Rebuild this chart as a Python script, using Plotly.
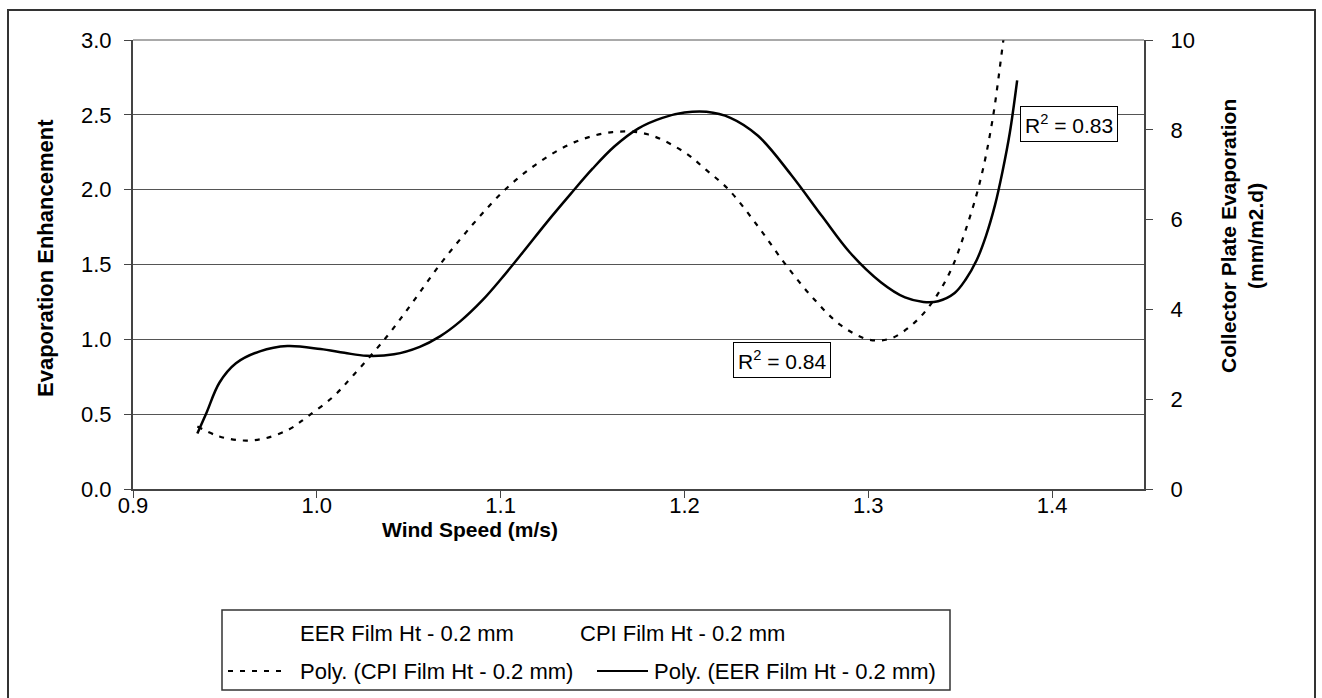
import plotly.graph_objects as go

# Polynomial trendline of EER (left axis)
eer_x = [0.935, 0.940, 0.947, 0.956, 0.969, 0.984, 1.002, 1.015, 1.027, 1.042, 1.056, 1.067,
         1.078, 1.090, 1.100, 1.112, 1.125, 1.138, 1.150, 1.162, 1.175, 1.188, 1.200, 1.212,
         1.225, 1.240, 1.258, 1.275, 1.290, 1.307, 1.320, 1.330, 1.338, 1.347, 1.353, 1.359,
         1.364, 1.369, 1.373, 1.377, 1.381]
eer_y = [0.37, 0.51, 0.71, 0.84, 0.92, 0.955, 0.935, 0.91, 0.89, 0.90, 0.95, 1.02,
         1.12, 1.26, 1.40, 1.58, 1.78, 1.97, 2.14, 2.29, 2.41, 2.48, 2.515, 2.52,
         2.48, 2.36, 2.10, 1.82, 1.58, 1.38, 1.28, 1.25, 1.255, 1.31, 1.40, 1.53,
         1.69, 1.90, 2.12, 2.38, 2.73]

# Polynomial trendline of CPI (right axis)
cpi_x = [0.935, 0.947, 0.960, 0.972, 0.985, 0.9945, 1.009, 1.020, 1.038, 1.052, 1.067, 1.085,
         1.1025, 1.120, 1.140, 1.161, 1.180, 1.200, 1.212, 1.224, 1.240, 1.255, 1.270, 1.285,
         1.300, 1.312, 1.325, 1.3355, 1.345, 1.353, 1.361, 1.3675, 1.3735, 1.378]
cpi_y = [1.39, 1.17, 1.08, 1.13, 1.33, 1.60, 2.06, 2.54, 3.39, 4.15, 5.0, 5.9,
         6.67, 7.25, 7.72, 7.95, 7.90, 7.50, 7.10, 6.67, 5.85, 5.0, 4.25, 3.65,
         3.33, 3.35, 3.70, 4.20, 4.88, 5.77, 6.88, 8.2, 10.0, 11.4]

x_ticks = [0.9, 1.0, 1.1, 1.2, 1.3, 1.4]
y_ticks = [0.0, 0.5, 1.0, 1.5, 2.0, 2.5, 3.0]
y2_ticks = [0, 2, 4, 6, 8, 10]

legend_labels = ["EER Film Ht - 0.2 mm", "CPI Film Ht - 0.2 mm",
                 "Poly. (CPI Film Ht - 0.2 mm)", "Poly. (EER Film Ht - 0.2 mm)"]
r2_labels = ["R<sup>2</sup> = 0.84", "R<sup>2</sup> = 0.83"]

FONT = "Liberation Sans, Arial, sans-serif"
W, H = 1322, 698
L, R, T, B = 133, 1144, 40, 489

fig = go.Figure()
fig.add_trace(go.Scatter(x=cpi_x, y=cpi_y, mode="lines", yaxis="y2",
                         line=dict(color="black", width=2.2, dash="5px,7px", shape="spline"),
                         showlegend=False, name=legend_labels[2]))
fig.add_trace(go.Scatter(x=eer_x, y=eer_y, mode="lines",
                         line=dict(color="black", width=2.5, shape="spline"),
                         showlegend=False, name=legend_labels[3]))

fig.update_layout(
    width=W, height=H,
    margin=dict(l=L, r=W - R, t=T, b=H - B),
    paper_bgcolor="white", plot_bgcolor="white",
    font=dict(family=FONT, size=22, color="black"),
    showlegend=False,
    xaxis=dict(range=[0.9, 1.45], tickvals=x_ticks, ticktext=[f"{v:.1f}" for v in x_ticks],
               showline=True, linecolor="#444", linewidth=2, ticks="outside", ticklen=7,
               tickcolor="#444", showgrid=False, zeroline=False, ticklabelstandoff=-11),
    yaxis=dict(range=[0, 3], tickvals=y_ticks, ticktext=[f"{v:.1f}" for v in y_ticks],
               showline=True, linecolor="#444", linewidth=2, ticks="outside", ticklen=7,
               tickcolor="#444", showgrid=True, gridcolor="#555", gridwidth=1,
               zeroline=False, ticklabelstandoff=8),
    yaxis2=dict(range=[0, 10], tickvals=y2_ticks, overlaying="y", side="right",
                showline=True, linecolor="#444", linewidth=2, ticks="outside", ticklen=7,
                tickcolor="#444", showgrid=False, zeroline=False, ticklabelstandoff=13),
)


def fx(xp):
    return (xp - L) / (R - L)


def fy(yp):
    return (B - yp) / (B - T)


# outer chart border
fig.add_shape(type="rect", xref="paper", yref="paper",
              x0=fx(8), x1=fx(1315), y0=fy(720), y1=fy(10),
              line=dict(color="#333", width=2), fillcolor="rgba(0,0,0,0)", layer="below")
# top gridline at 3.0
fig.add_shape(type="line", xref="paper", yref="paper", x0=0, x1=1, y0=1, y1=1,
              line=dict(color="#555", width=1))

# axis titles
fig.add_annotation(text="<b>Wind Speed (m/s)</b>", xref="paper", yref="paper",
                   x=fx(470), y=fy(529), showarrow=False,
                   font=dict(size=21), xanchor="center", yanchor="middle")
fig.add_annotation(text="<b>Evaporation Enhancement</b>", xref="paper", yref="paper",
                   x=fx(45), y=fy(258), showarrow=False,
                   textangle=-90, font=dict(size=22), xanchor="center", yanchor="middle")
fig.add_annotation(text="<b>Collector Plate Evaporation<br>(mm/m2.d)</b>", xref="paper", yref="paper",
                   x=fx(1242), y=fy(236), showarrow=False,
                   textangle=-90, font=dict(size=21), xanchor="center", yanchor="middle")

# R^2 labels
fig.add_annotation(text=r2_labels[0], x=1.253, y=0.86, xref="x", yref="y", showarrow=False,
                   bgcolor="white", bordercolor="black", borderwidth=1, borderpad=4,
                   font=dict(size=21))
fig.add_annotation(text=r2_labels[1], x=1.409, y=2.44, xref="x", yref="y", showarrow=False,
                   bgcolor="white", bordercolor="black", borderwidth=1, borderpad=4,
                   font=dict(size=21))

# legend box
lx0, lx1, ly0, ly1 = 222, 950, 610, 690
fig.add_shape(type="rect", xref="paper", yref="paper",
              x0=fx(lx0), x1=fx(lx1), y0=fy(ly1), y1=fy(ly0),
              line=dict(color="#333", width=1.5), fillcolor="white")
row1, row2 = 633, 671
items = [(298, row1, legend_labels[0], None), (578, row1, legend_labels[1], None),
         (298, row2, legend_labels[2], ("dash", 228, 285)),
         (652, row2, legend_labels[3], ("solid", 597, 648))]
for xt, yt, txt, sample in items:
    fig.add_annotation(text=txt, xref="paper", yref="paper",
                       x=fx(xt), y=fy(yt), showarrow=False,
                       xanchor="left", yanchor="middle", font=dict(size=22))
    if sample:
        st, a, b = sample
        fig.add_shape(type="line", xref="paper", yref="paper",
                      x0=fx(a), x1=fx(b), y0=fy(yt), y1=fy(yt),
                      line=dict(color="black", width=2.2,
                                dash="5px,7px" if st == "dash" else "solid"))

fig.write_html("out.html")
